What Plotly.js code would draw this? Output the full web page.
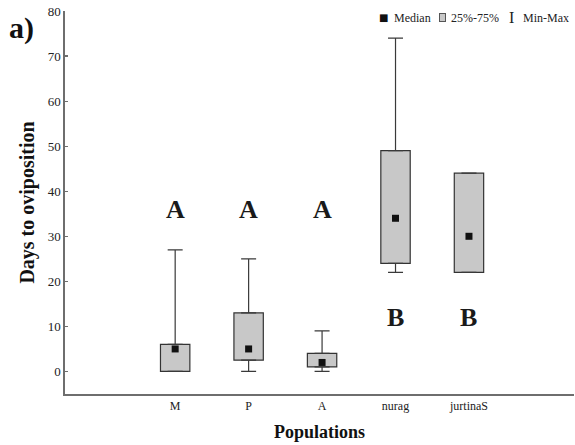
<!DOCTYPE html>
<html>
<head>
<meta charset="utf-8">
<script src="https://cdn.plot.ly/plotly-3.0.1.min.js"></script>
<style>html,body{margin:0;padding:0;background:#fff;}#chart{width:575px;height:445px;}</style>
</head>
<body>
<div id="chart"></div>
<script>
// ---- data ----
const categories = ['M', 'P', 'A', 'nurag', 'jurtinaS'];
const minVals    = [0, 0, 0, 22, 22];
const q1Vals     = [0, 2.5, 1, 24, 22];
const medianVals = [5, 5, 2, 34, 30];
const q3Vals     = [6, 13, 4, 49, 44];
const maxVals    = [27, 25, 9, 74, 44];
const groupLetters = ['A', 'A', 'A', 'B', 'B'];
const yTickVals  = [0, 10, 20, 30, 40, 50, 60, 70, 80];

// ---- styling ----
const FONT = "'Liberation Serif', 'Times New Roman', serif";
const letterY = {A: 36, B: 12};
const boxFill = '#c8c8c8';
const boxLine = '#333333';
const axisCol = '#6e6e6e';

const boxTrace = {
  type: 'bar', x: categories,
  base: q1Vals,
  y: q3Vals.map((v, i) => v - q1Vals[i]),
  width: 0.4,
  marker: {color: boxFill, line: {color: boxLine, width: 1.2}},
  showlegend: false, hoverinfo: 'skip'
};
const upperWhisker = {
  type: 'scatter', mode: 'markers', x: categories, y: q3Vals,
  marker: {size: 1, opacity: 0},
  error_y: {type: 'data', symmetric: false,
            array: maxVals.map((v, i) => v - q3Vals[i]),
            arrayminus: q3Vals.map(() => 0),
            width: 7.5, thickness: 1.2, color: '#3a3a3a'},
  showlegend: false, hoverinfo: 'skip'
};
const lowerWhisker = {
  type: 'scatter', mode: 'markers', x: categories, y: q1Vals,
  marker: {size: 1, opacity: 0},
  error_y: {type: 'data', symmetric: false,
            array: q1Vals.map(() => 0),
            arrayminus: q1Vals.map((v, i) => v - minVals[i]),
            width: 7.5, thickness: 1.2, color: '#3a3a3a'},
  showlegend: false, hoverinfo: 'skip'
};
const medianTrace = {
  type: 'scatter', mode: 'markers', x: categories, y: medianVals,
  marker: {symbol: 'square', size: 7, color: '#111111'},
  showlegend: false, hoverinfo: 'skip'
};

// plot area in pixels: x 65..574, y 11..394
const L = 65, R = 574, T = 11, B = 394;
const px = v => (v - L) / (R - L);
const py = v => (B - v) / (B - T);

const annotations = groupLetters.map((g, i) => ({
  x: categories[i], y: letterY[g], xref: 'x', yref: 'y',
  text: '<b>' + g + '</b>', showarrow: false,
  font: {family: FONT, size: 26, color: '#1a1a1a'},
  xanchor: 'center', yanchor: 'middle'
}));

// legend row (top right)
const legFont = {family: FONT, size: 12, color: '#222'};
annotations.push(
  {xref: 'paper', yref: 'paper', x: px(383), y: py(18), text: '■', showarrow: false,
   font: {family: 'DejaVu Sans', size: 10, color: '#111'}, xanchor: 'center', yanchor: 'middle'},
  {xref: 'paper', yref: 'paper', x: px(392), y: py(18), text: 'Median', showarrow: false,
   font: legFont, xanchor: 'left', yanchor: 'middle'},
  {xref: 'paper', yref: 'paper', x: px(442), y: py(18), text: ' ', showarrow: false,
   font: {family: FONT, size: 6}, bgcolor: boxFill, bordercolor: '#555', borderwidth: 1,
   width: 5, height: 7, xanchor: 'center', yanchor: 'middle', borderpad: 0},
  {xref: 'paper', yref: 'paper', x: px(449), y: py(18), text: '25%-75%', showarrow: false,
   font: legFont, xanchor: 'left', yanchor: 'middle'},
  {xref: 'paper', yref: 'paper', x: px(511), y: py(18), text: 'I', showarrow: false,
   font: {family: FONT, size: 16, color: '#222'}, xanchor: 'center', yanchor: 'middle'},
  {xref: 'paper', yref: 'paper', x: px(521), y: py(18), text: 'Min-Max', showarrow: false,
   font: legFont, xanchor: 'left', yanchor: 'middle'},
  {xref: 'paper', yref: 'paper', x: px(21), y: py(28), text: '<b>a)</b>', showarrow: false,
   font: {family: FONT, size: 30, color: '#111'}, xanchor: 'center', yanchor: 'middle'}
);

const layout = {
  width: 575, height: 445,
  margin: {l: L, r: 575 - R, t: T, b: 445 - B, pad: 0},
  paper_bgcolor: '#ffffff', plot_bgcolor: '#ffffff',
  font: {family: FONT, color: '#222'},
  showlegend: false,
  xaxis: {
    type: 'category', range: [-1.5, 5.43],
    showgrid: false, zeroline: false,
    showline: true, linecolor: axisCol, linewidth: 1.6,
    ticks: '', tickfont: {family: FONT, size: 12, color: '#222'},
    title: {text: '<b>Populations</b>', font: {family: FONT, size: 18, color: '#111'}, standoff: 13},
    automargin: false, fixedrange: true
  },
  yaxis: {
    range: [-5, 80], tickvals: yTickVals,
    showgrid: false, zeroline: false,
    showline: true, linecolor: axisCol, linewidth: 1.6,
    ticks: 'inside', ticklen: 3, tickcolor: axisCol, tickwidth: 1.2,
    tickfont: {family: FONT, size: 13, color: '#222'},
    title: {text: '<b>Days to oviposition</b>', font: {family: FONT, size: 20, color: '#111'}, standoff: 8},
    automargin: false, fixedrange: true
  },
  annotations: annotations
};

Plotly.newPlot('chart', [boxTrace, upperWhisker, lowerWhisker, medianTrace], layout,
  {displayModeBar: false, staticPlot: true});
</script>
</body>
</html>
